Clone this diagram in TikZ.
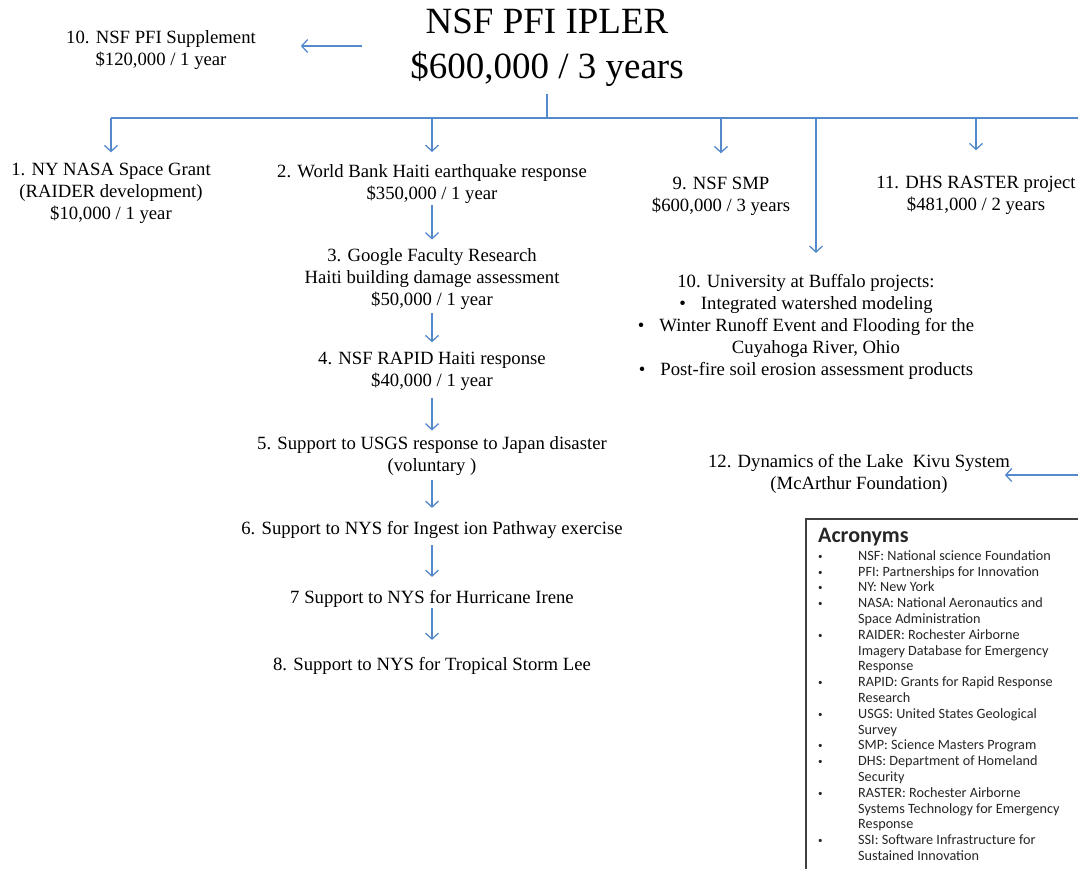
\documentclass[tikz,border=0pt]{standalone}
\usepackage{fontspec}
\setmainfont{Liberation Serif}
\newfontfamily\calibri{Carlito}
\usetikzlibrary{arrows.meta}
\definecolor{acol}{RGB}{84,138,204}
\newcommand{\smbul}{{\fontsize{9}{9}\selectfont\raisebox{1pt}{•}}}
\begin{document}
\begin{tikzpicture}[x=1pt,y=-1pt,
  body/.style={font=\fontsize{18.7}{22}\selectfont, align=center, inner sep=0pt, outer sep=0pt},
  ttlstyle/.style={font=\fontsize{37}{45}\selectfont, align=center, inner sep=0pt, outer sep=0pt},
  arr/.style={draw=acol, line width=1.3pt, -{Straight Barb[length=6pt,width=13pt]}},
  plain/.style={draw=acol, line width=1.3pt},
  acrtext/.style={font=\calibri\fontsize{14.2}{15.8}\selectfont, text=black!85, inner sep=0pt, anchor=north west}]
\clip (0,0) rectangle (1078,868);
\fill[white] (0,0) rectangle (1078,868);

% title and nodes
\node[ttlstyle] (ttl) at (547,47.5) {NSF PFI IPLER\\\$600,000 / 3 years};
\node[body] (sup) at (161,50.5) {10. NSF PFI Supplement\\\$120,000 / 1 year};
\node[body] (n1) at (111,193.5) {1. NY NASA Space Grant\\(RAIDER development)\\\$10,000 / 1 year};
\node[body] (n2) at (432,184.5) {2. World Bank Haiti earthquake response\\\$350,000 / 1 year};
\node[body] (n3) at (432,279) {3. Google Faculty Research\\Haiti building damage assessment\\\$50,000 / 1 year};
\node[body] (n4) at (432,371.5) {4. NSF RAPID Haiti response\\\$40,000 / 1 year};
\node[body] (n5) at (432,456) {5. Support to USGS response to Japan disaster\\(voluntary )};
\node[body] (n6) at (432,529.5) {6. Support to NYS for Ingest ion Pathway exercise};
\node[body] (n7) at (432,598.5) {7 Support to NYS for Hurricane Irene};
\node[body] (n8) at (432,665.5) {8. Support to NYS for Tropical Storm Lee};
\node[body] (n9) at (721,196.5) {9. NSF SMP\\\$600,000 / 3 years};
\node[body] (n11) at (976,195.5) {11. DHS RASTER project\\\$481,000 / 2 years};
\node[body] (n10) at (806,326.5) {10. University at Buffalo projects:\\
  •\hspace{15pt}Integrated watershed modeling\\
  •\hspace{15pt}Winter Runoff Event and Flooding for the\\
  \hspace{20pt}Cuyahoga River, Ohio\\
  •\hspace{15pt}Post-fire soil erosion assessment products};
\node[body] (n12) at (859,473.5) {12. Dynamics of the Lake \ Kivu System\\(McArthur Foundation)};

% bus coordinates
\coordinate (bT) at (547,118);
\coordinate (b1) at (111,118);
\coordinate (b2) at (432,118);
\coordinate (b9) at (721,118);
\coordinate (b10) at (816,118);
\coordinate (b11) at (976,118);
\coordinate (bR) at (1082,118);
\coordinate (s0) at (362,46);
\coordinate (r12) at (1082,475);

\draw[plain, shorten <=8pt] (ttl.south) -- (bT);
\draw[plain] (b1) -- (bR);
\draw[arr, shorten >=11pt] (b1) -- (n1.north);
\draw[arr, shorten >=13pt] (b2) -- (n2.north);
\draw[arr, shorten >=24pt] (b9) -- (n9.north);
\draw[arr, shorten >=21pt] (b10) -- (b10 |- n10.north);
\draw[arr, shorten >=26pt] (b11) -- (n11.north);
\draw[arr, shorten >=45pt] (s0) -- (s0 -| sup.east);
\draw[arr] (r12) -- ([xshift=-5pt]n12.east |- r12);

% chain
\draw[arr, shorten <=1pt, shorten >=9pt] (n2.south) -- (n3.north);
\draw[arr, shorten <=3pt, shorten >=10pt] (n3.south) -- (n4.north);
\draw[arr, shorten <=7pt, shorten >=6pt] (n4.south) -- (n5.north);
\draw[arr, shorten <=4pt, shorten >=13pt] (n5.south) -- (n6.north);
\draw[arr, shorten <=7pt, shorten >=13pt] (n6.south) -- (n7.north);
\draw[arr, shorten <=1pt, shorten >=17pt] (n7.south) -- (n8.north);

% acronyms box
\node[draw=black!75, line width=1.5pt, anchor=north west, minimum width=300pt, minimum height=400pt, inner sep=0pt] (acr) at (805,518) {};
\node[font=\calibri\bfseries\fontsize{22}{24}\selectfont, text=black!85, inner sep=0pt, anchor=west] (acrh) at (818,537) {Acronyms};
\node[acrtext] (acrl) at (818,549) {\renewcommand{\arraystretch}{1}%
\begin{tabular}{@{}p{40pt}@{}l@{}}
\smbul & NSF: National science Foundation\\
\smbul & PFI: Partnerships for Innovation\\
\smbul & NY: New York\\
\smbul & NASA: National Aeronautics and\\
  & Space Administration\\
\smbul & RAIDER: Rochester Airborne\\
  & Imagery Database for Emergency\\
  & Response\\
\smbul & RAPID: Grants for Rapid Response\\
  & Research\\
\smbul & USGS: United States Geological\\
  & Survey\\
\smbul & SMP: Science Masters Program\\
\smbul & DHS: Department of Homeland\\
  & Security\\
\smbul & RASTER: Rochester Airborne\\
  & Systems Technology for Emergency\\
  & Response\\
\smbul & SSI: Software Infrastructure for\\
  & Sustained Innovation
\end{tabular}};
\end{tikzpicture}
\end{document}
